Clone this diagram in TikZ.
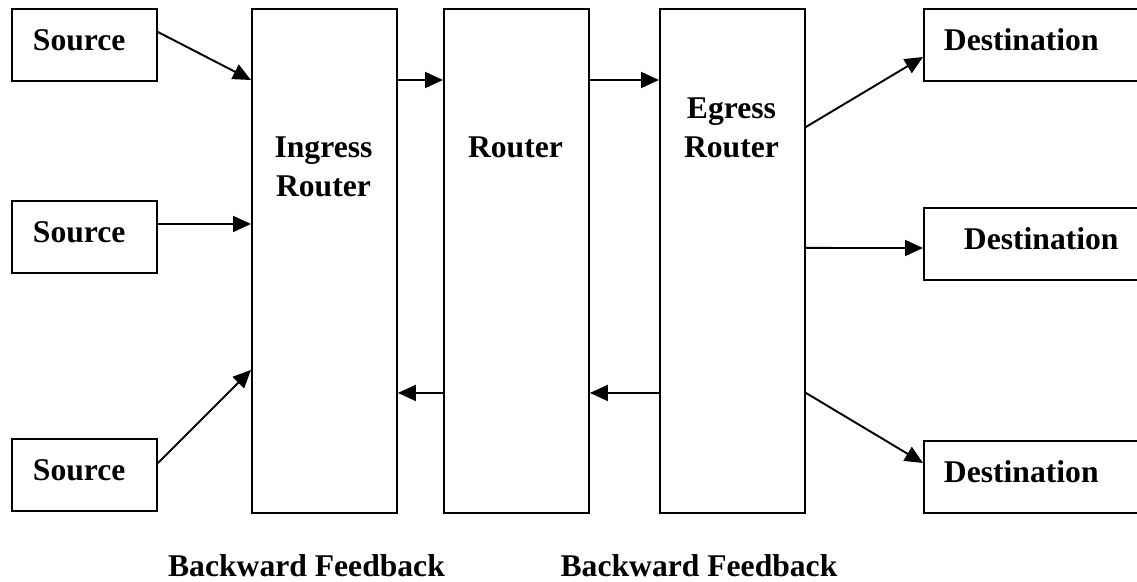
\documentclass[tikz,border=0pt]{standalone}
\usepackage{fontspec}
\setmainfont{Liberation Serif}
\usetikzlibrary{arrows.meta}

\begin{document}
\begin{tikzpicture}[x=0.02cm, y=-0.02cm, line width=1.1pt,
        every node/.style={font=\fontsize{18}{22}\selectfont\bfseries},
        box/.style={draw, anchor=north west, inner ysep=0pt, text height=12pt, text depth=6.3pt, align=left, minimum height=1.45cm},
        srcbox/.style={box, inner xsep=0.42cm, text width=2.06cm},
        dstbox/.style={box, inner xsep=0.4cm, text width=3.8cm},
        rtr/.style={draw, anchor=north west, minimum width=2.9cm, minimum height=10.08cm},
        lbl/.style={inner sep=0pt, text depth=0pt, align=center, anchor=south},
        flow/.style={-{Triangle[length=0.36cm, width=0.32cm]}}]
        \useasboundingbox (0, 0) rectangle (1137, 582);
        \clip (0, 0) rectangle (1137, 582);

        \node[srcbox] (src1) at (11, 8) {Source};
        \node[srcbox] (src2) at (11, 200) {Source};
        \node[srcbox] (src3) at (11, 438) {Source};

        \node[rtr] (ingress) at (251, 8) {};
        \node[rtr] (router) at (443, 8) {};
        \node[rtr] (egress) at (659, 8) {};

        \node[dstbox] (dst1) at (923, 8) {Destination};
        \node[dstbox, inner xsep=0.8cm, text width=3.4cm] (dst2) at (923, 207) {Destination};
        \node[dstbox] (dst3) at (923, 440) {Destination};

        \node[lbl] (ingtxt) at (323.5, 197) {Ingress\\Router};
        \node[lbl] (rtrtxt) at (515.5, 158) {Router};
        \node[lbl] (egrtxt) at (731.5, 158) {Egress\\Router};

        \draw[flow] ([yshift=-0.48cm]src1.north east) -- ([yshift=-1.44cm]ingress.north west);
        \draw[flow] ([yshift=-0.48cm]src2.north east) -- ([yshift=-4.32cm]ingress.north west);
        \draw[flow] ([yshift=-0.5cm]src3.north east) -- ([yshift=-7.24cm]ingress.north west);
        \draw[flow] ([yshift=-1.44cm]ingress.north east) -- ([yshift=-1.44cm]router.north west);
        \draw[flow] ([yshift=-1.44cm]router.north east) -- ([yshift=-1.44cm]egress.north west);
        \draw[flow] ([yshift=-7.7cm]router.north west) -- ([yshift=-7.7cm]ingress.north east);
        \draw[flow] ([yshift=-7.7cm]egress.north west) -- ([yshift=-7.7cm]router.north east);
        \draw[flow] ([yshift=-2.38cm]egress.north east) -- ([yshift=-0.98cm]dst1.north west);
        \draw[flow] ([yshift=-4.8cm]egress.north east) -- ([yshift=-0.82cm]dst2.north west);
        \draw[flow] ([yshift=-7.7cm]egress.north east) -- ([yshift=-0.46cm]dst3.north west);

        \node[lbl] (fb1) at (306.5, 577) {Backward Feedback};
        \node[lbl] (fb2) at (699, 577) {Backward Feedback};
    \end{tikzpicture}
\end{document}
